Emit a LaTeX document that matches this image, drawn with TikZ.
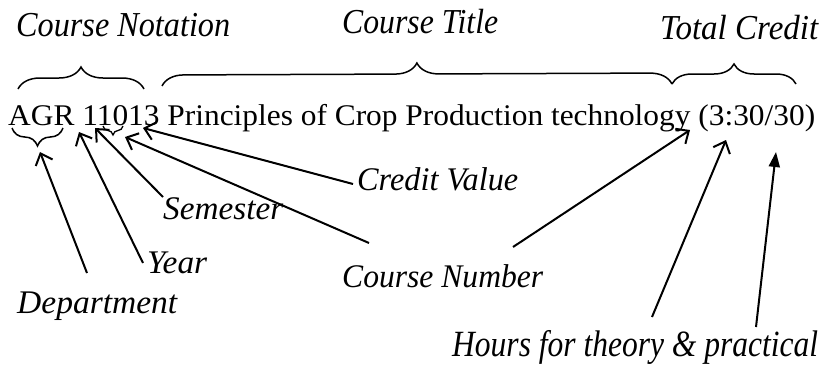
\documentclass[tikz,border=0pt]{standalone}
\usepackage{fontspec}
\usepackage{graphicx}
\setmainfont{Liberation Serif}
\usetikzlibrary{arrows.meta,decorations.pathreplacing}
\newcommand{\fitw}[2]{\resizebox{#1}{\height}{#2}}
\begin{document}
\begin{tikzpicture}[x=1pt,y=-1pt,
  txt/.style={anchor=base west,inner sep=0pt,font=\fontsize{30}{30}\selectfont},
  lbl/.style={txt,font=\fontsize{33}{33}\selectfont\itshape},
  toplbl/.style={txt,font=\fontsize{35}{35}\selectfont\itshape},
  conn/.style={line width=2pt,-{Straight Barb[length=10pt,width=18pt,line width=2pt]}},
  connfill/.style={line width=2pt,-{Triangle[length=15pt,width=11pt]}},
  brc/.style={decorate,decoration={brace,amplitude=#1},line width=1.5pt}
]
\useasboundingbox (0,0) rectangle (824,364);
% main line
\node[txt] (main) at (8,125) {\fitw{807pt}{AGR 11013 Principles of Crop Production technology (3:30/30)}};
% top labels
\node[toplbl] (notation) at (16,36) {\fitw{214pt}{Course Notation}};
\node[toplbl] (title) at (342,33) {\fitw{156pt}{Course Title}};
\node[toplbl] (total) at (660,39) {\fitw{158pt}{Total Credit}};
% lower labels
\node[lbl] (credit) at (357,190) {\fitw{161pt}{Credit Value}};
\node[lbl] (semester) at (163,219) {\fitw{120pt}{Semester}};
\node[lbl] (year) at (147,273) {\fitw{60pt}{Year}};
\node[lbl] (number) at (342,287) {\fitw{201pt}{Course Number}};
\node[lbl] (dept) at (17,313) {\fitw{160pt}{Department}};
\node[lbl,font=\fontsize{37}{37}\selectfont\itshape] (hours) at (452,356) {\fitw{366pt}{Hours for theory \& practical}};
% braces above
\coordinate (bnA) at (18,89);  \coordinate (bnB) at (144,89);
\coordinate (btA) at (162,86); \coordinate (btB) at (672,84);
\coordinate (bcA) at (672,84); \coordinate (bcB) at (796,84);
\draw[brc=22pt] (bnA) -- (bnB);
\draw[brc=22pt] (btA) -- (btB);
\draw[brc=20pt] (bcA) -- (bcB);
% braces below
\coordinate (bdA) at (63,128); \coordinate (bdB) at (12,128);
\coordinate (bsA) at (123,126); \coordinate (bsB) at (103,126);
\draw[brc=18pt] (bdA) -- (bdB);
\draw[brc=9pt,line width=1.3pt] (bsA) -- (bsB);
% connector ends
\coordinate (tDept) at (40,152);  \coordinate (sDept) at (87,273);
\coordinate (tYear) at (79,132);  \coordinate (sYear) at (143,263);
\coordinate (tSem) at (95,128);   \coordinate (sSem) at (163,197);
\coordinate (tNum) at (125,137);  \coordinate (sNum) at (369,243);
\coordinate (tCred) at (143,128); \coordinate (sCred) at (353,184);
\coordinate (tTot) at (690,130);  \coordinate (sTot) at (513,247);
\coordinate (tTh) at (726,140);   \coordinate (sTh) at (652,317);
\coordinate (tPr) at (776,152);   \coordinate (sPr) at (756,327);
\draw[conn] (sDept) -- (tDept);
\draw[conn] (sYear) -- (tYear);
\draw[conn] (sSem) -- (tSem);
\draw[conn] (sNum) -- (tNum);
\draw[conn] (sCred) -- (tCred);
\draw[conn] (sTot) -- (tTot);
\draw[conn] (sTh) -- (tTh);
\draw[connfill] (sPr) -- (tPr);
\end{tikzpicture}
\end{document}
